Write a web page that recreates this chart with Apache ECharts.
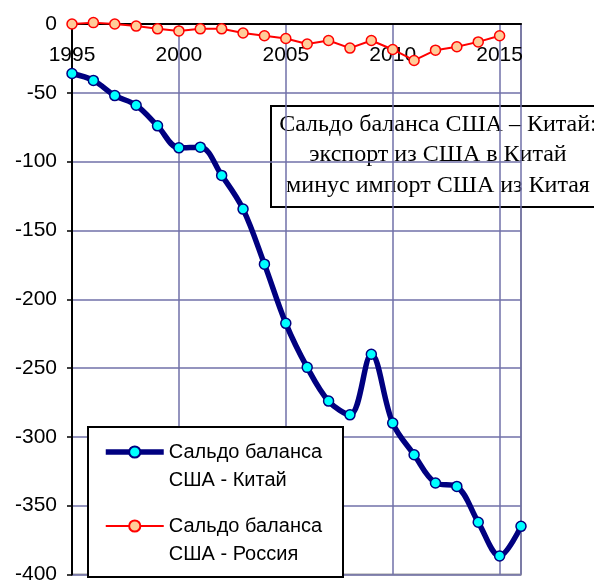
<!DOCTYPE html>
<html>
<head>
<meta charset="utf-8">
<script src="https://cdn.jsdelivr.net/npm/echarts@6/dist/echarts.min.js"></script>
<style>
  html, body { margin: 0; padding: 0; background: #fff; }
  #chart { width: 594px; height: 585px; }
</style>
</head>
<body>
<div id="chart"></div>
<script>
// годы по оси X
const years = [1995, 1996, 1997, 1998, 1999, 2000, 2001, 2002, 2003, 2004, 2005,
  2006, 2007, 2008, 2009, 2010, 2011, 2012, 2013, 2014, 2015, 2016]
// сальдо США - Китай
const chinaBalance = [-36, -41, -52, -59, -74, -90, -89.5, -110, -134.5, -174.5, -217.5,
  -249.5, -274, -284, -240, -290, -313, -333.5, -336, -362, -386.5, -365]
// сальдо США - Россия (до 2015)
const russiaBalance = [0, 1, 0, -1.5, -3.5, -5, -3.5, -3.5, -6.5, -8.5, -10.5,
  -14.5, -12, -17.5, -12, -18.5, -26.5, -19, -16.5, -13, -8.5]
const seriesNames = ['Сальдо баланса\nСША - Китай', 'Сальдо баланса\nСША - Россия']
const noteLines = ['Сальдо баланса США – Китай:', 'экспорт из США в Китай', 'минус импорт США из Китая']

const gridColor = '#7070a8'

const chartInstance = echarts.init(document.getElementById('chart'), null, { renderer: 'canvas' })

const toPairs = (vals) => vals.map((v, i) => [years[i], v])

const option = {
  backgroundColor: '#fff',
  animation: false,
  textStyle: { fontFamily: 'Liberation Sans, Arial, sans-serif' },
  grid: {
    left: 72, right: 73, top: 24, bottom: 6,
    show: true, borderColor: '#a0a0a0', borderWidth: 2
  },
  xAxis: {
    type: 'value',
    position: 'top',
    min: 1995,
    max: 2016,
    interval: 5,
    axisLine: { onZero: false, lineStyle: { color: '#000', width: 2 } },
    axisTick: { show: false },
    axisLabel: {
      inside: true, margin: 21, color: '#000', fontSize: 21,
      showMaxLabel: false,
      formatter: (v) => String(v)
    },
    splitLine: { show: true, lineStyle: { color: gridColor, width: 1.5 } }
  },
  yAxis: {
    type: 'value',
    min: -400,
    max: 0,
    interval: 50,
    axisLine: { show: true, onZero: false, lineStyle: { color: '#000', width: 2 } },
    axisTick: { show: true, length: 5, lineStyle: { color: '#000', width: 1.5 } },
    axisLabel: { margin: 15, color: '#000', fontSize: 21 },
    splitLine: { show: true, lineStyle: { color: gridColor, width: 1.5 } }
  },
  legend: {
    orient: 'vertical',
    left: 103,
    top: 410,
    z: 11,
    itemWidth: 58,
    itemHeight: 14,
    itemGap: -10,
    padding: 0,
    lineStyle: { width: 'inherit' },
    // пустая первая строка, чтобы значок стоял против первой строки подписи
    formatter: (name) => '\n' + name,
    textStyle: { fontSize: 20, color: '#000', lineHeight: 28 },
    data: seriesNames
  },
  graphic: [
    {
      type: 'rect', z: 10, silent: true,
      shape: { x: 88, y: 427, width: 255, height: 150 },
      style: { fill: '#fff', stroke: '#000', lineWidth: 2 }
    },
    {
      type: 'group', z: 20, silent: true,
      children: [
        {
          type: 'rect',
          shape: { x: 271, y: 106, width: 340, height: 101 },
          style: { fill: '#fff', stroke: '#000', lineWidth: 2 }
        },
        {
          type: 'text',
          x: 438, y: 155,
          style: {
            text: noteLines.join('\n'),
            font: '24px "Liberation Serif", "Times New Roman", serif',
            lineHeight: 30.5,
            fill: '#000',
            align: 'center',
            verticalAlign: 'middle'
          }
        }
      ]
    }
  ],
  series: [
    {
      name: seriesNames[0],
      type: 'line',
      smooth: 0.35,
      data: toPairs(chinaBalance),
      symbol: 'circle',
      symbolSize: 10,
      z: 3,
      lineStyle: { color: '#000080', width: 5.5 },
      itemStyle: { color: '#00ffff', borderColor: '#000080', borderWidth: 1.5 }
    },
    {
      name: seriesNames[1],
      type: 'line',
      clip: false,
      data: toPairs(russiaBalance),
      symbol: 'circle',
      symbolSize: 10,
      z: 4,
      lineStyle: { color: '#ff0000', width: 2 },
      itemStyle: { color: '#ffcc99', borderColor: '#ff0000', borderWidth: 1.5 }
    }
  ]
}

chartInstance.setOption(option)
</script>
</body>
</html>
